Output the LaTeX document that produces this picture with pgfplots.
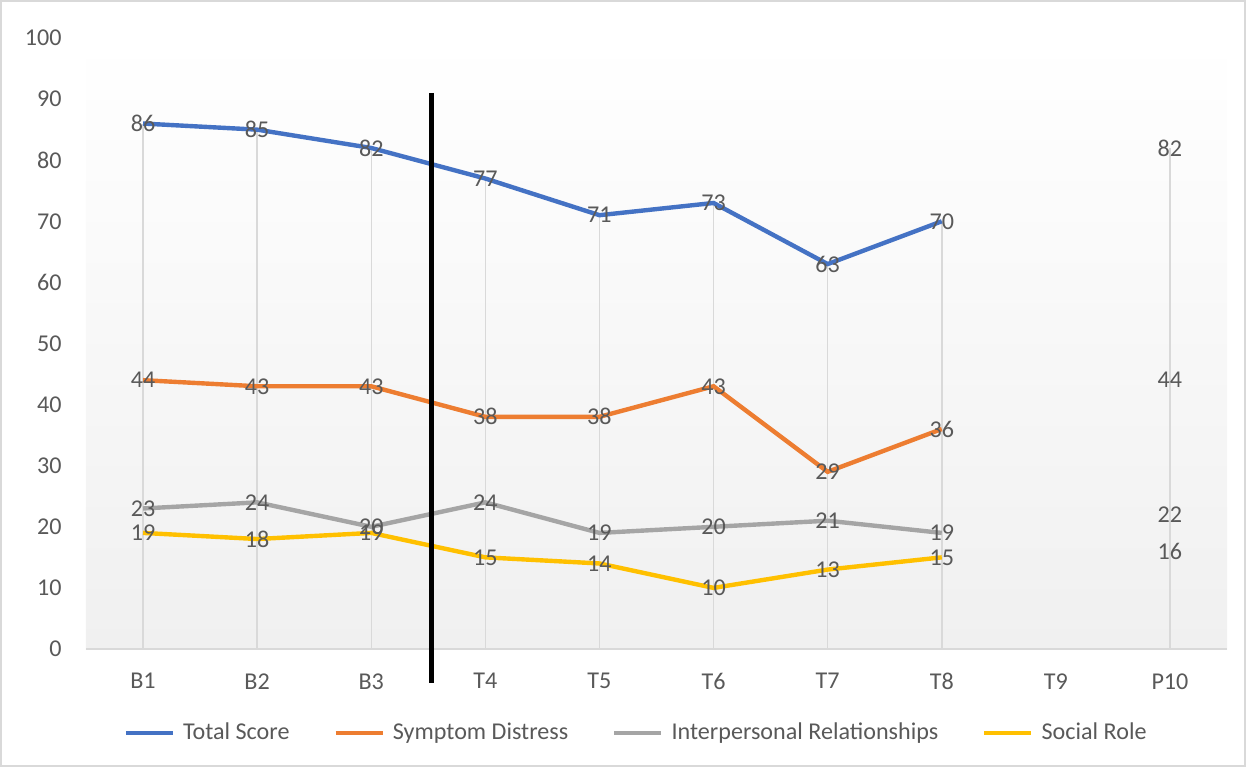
\documentclass[border=0pt]{standalone}
\usepackage{fontspec}
\setmainfont{Carlito}
\usepackage{pgfplots}
\pgfplotsset{compat=1.18}
\definecolor{cBlue}{HTML}{4472C4}
\definecolor{cOrange}{HTML}{ED7D31}
\definecolor{cGray}{HTML}{A5A5A5}
\definecolor{cYellow}{HTML}{FFC000}
\definecolor{labelgray}{HTML}{595959}
\definecolor{gridgray}{HTML}{D9D9D9}
\definecolor{bggray}{HTML}{F0F0F0}
\pgfplotsset{/pgf/number format/assume math mode=true}
\begin{document}
\begin{tikzpicture}[x=1bp,y=1bp]
\useasboundingbox (-43,-59) rectangle (580,324.5);
\draw[gridgray, line width=0.75bp] (-42.5,-58.5) rectangle (579.5,324);
\begin{axis}[
  at={(0,0)}, anchor=south west, scale only axis,
  width=570.5bp, height=305.5bp,
  xmin=-0.5, xmax=9.5, ymin=0, ymax=100,
  clip=false,
  xtick={0,...,9},
  xticklabels={B1,B2,B3,T4,T5,T6,T7,T8,T9,P10},
  ytick={0,10,...,100},
  axis x line*=bottom, axis y line*=left,
  x axis line style={gridgray, line width=0.75bp, -},
  y axis line style={draw=none},
  major tick length=0pt,
  tick style={draw=none},
  ticklabel style={color=labelgray, font=\fontsize{12.1}{14}\selectfont},
  yticklabel style={anchor=east, inner sep=0pt, xshift=-12bp},
  xticklabel style={anchor=north, inner sep=0pt, yshift=-12bp},
  axis background/.style={shade, top color=white, bottom color=bggray},
  every node near coord/.append style={anchor=center, color=labelgray, font=\fontsize{12.1}{14}\selectfont, inner sep=0pt},
  unbounded coords=jump,
  legend columns=4,
  legend style={at={(0.483,-0.1375)}, anchor=center, draw=none, fill=none,
    font=\fontsize{12.1}{14}\selectfont, text=labelgray,
    /tikz/every even column/.append style={column sep=20bp},
    /tikz/every odd column/.append style={column sep=2bp}},
  legend image code/.code={\draw[#1, line width=2.2bp] (0bp,0bp) -- (23.5bp,0bp);},
]
% drop lines
\addplot[ycomb, gridgray, line width=0.75bp, no markers, forget plot] table {
x y
0 86
1 85
2 82
3 77
4 71
5 73
6 63
7 70
9 82
};
\addplot[cBlue, line width=2.2bp, no markers, nodes near coords] table {
x y
0 86
1 85
2 82
3 77
4 71
5 73
6 63
7 70
8 nan
9 82
};
\addlegendentry{Total Score}
\addplot[cOrange, line width=2.2bp, no markers, nodes near coords] table {
x y
0 44
1 43
2 43
3 38
4 38
5 43
6 29
7 36
8 nan
9 44
};
\addlegendentry{Symptom Distress}
\addplot[cGray, line width=2.2bp, no markers, nodes near coords] table {
x y
0 23
1 24
2 20
3 24
4 19
5 20
6 21
7 19
8 nan
9 22
};
\addlegendentry{Interpersonal Relationships}
\addplot[cYellow, line width=2.2bp, no markers, nodes near coords] table {
x y
0 19
1 18
2 19
3 15
4 14
5 10
6 13
7 15
8 nan
9 16
};
\addlegendentry{Social Role}
\draw[black, line width=2.5bp] (axis cs:2.526,91) -- (axis cs:2.526,-5.56);
\end{axis}
\end{tikzpicture}
\end{document}
